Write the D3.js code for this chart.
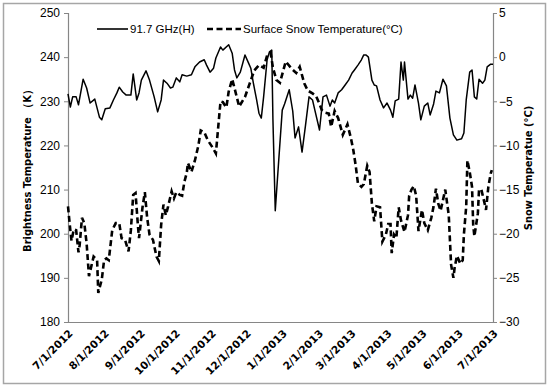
<!DOCTYPE html>
<html>
<head>
<meta charset="utf-8">
<script src="https://cdn.jsdelivr.net/npm/d3@7"></script>
<style>
  body { margin: 0; background: #fff; }
  svg { display: block; }
  text { font-family: "Liberation Sans", Arial, sans-serif; fill: #000; }
</style>
</head>
<body>
<svg width="550" height="388"></svg>
<script>
// dni od 2012-07-01 un vērtības, nolasītas no attēla
const btDays = [0,2,4,7,9,13,16,19,23,27,29,32,36,39,42,44,47,50,54,56,59,61,63,67,70,74,77,80,82,85,88,90,93,96,98,102,106,109,113,117,119,122,125,127,131,133,138,141,143,145,148,152,155,157,159,162,164,166,168,171,173,175,176,178,181,184,186,190,193,195,198,201,204,207,210,212,216,219,222,225,227,229,232,235,238,241,244,246,249,252,254,256,258,261,263,265,268,271,274,277,279,281,284,286,288,289,292,294,296,298,301,303,306,309,311,314,316,319,322,325,328,331,334,338,340,342,345,347,349,351,353,356,358,360,363,365];
const btValues = [231.7,228.7,231.0,231.0,229.2,235.0,233.0,229.6,230.5,226.4,225.8,228.3,228.5,230.3,231.9,233.2,232.1,231.4,231.4,236.2,230.3,231.9,234.8,236.9,234.8,231.0,227.6,230.3,234.8,234.1,233.0,233.2,235.3,234.4,236.0,235.7,236.0,237.8,238.9,239.4,238.2,236.6,237.5,239.8,242.3,241.6,242.8,240.9,237.1,235.3,236.6,240.5,238.7,237.5,234.4,230.3,227.3,226.2,231.0,239.4,241.2,241.6,225.8,205.2,216.7,228.0,229.4,232.6,227.8,221.7,224.2,218.5,224.6,231.0,230.3,228.0,223.5,231.0,231.4,228.9,230.3,229.6,231.9,232.6,233.7,234.8,236.4,237.1,238.2,239.4,240.5,240.5,240.0,234.8,233.7,233.5,230.3,228.5,229.6,228.0,226.4,230.1,230.5,238.9,234.8,238.9,230.5,231.4,230.7,233.7,229.6,225.8,228.9,229.6,226.9,229.4,232.3,231.9,235.0,233.5,226.2,222.4,221.2,221.5,222.8,230.3,236.6,237.1,231.0,230.5,235.0,234.1,234.8,237.8,238.4,238.4];

const snowDays = [0,2,3,5,7,9,10,12,14,16,18,20,22,25,26,29,31,33,35,38,41,44,46,49,52,54,56,58,60,61,64,66,68,70,73,76,78,80,82,84,86,89,91,93,96,98,100,102,103,106,109,112,114,117,120,124,127,131,133,136,138,141,143,147,152,156,160,164,168,171,174,176,179,182,187,192,196,199,203,206,210,213,216,218,221,224,226,229,232,236,240,243,245,247,249,252,254,257,259,261,263,265,268,270,273,275,277,278,280,282,284,286,289,292,293,295,297,299,301,304,306,309,312,314,316,318,320,323,324,327,329,331,332,334,337,339,340,342,343,345,347,348,349,352,353,355,358,359,361,363,364];
const snowValues = [-16.9,-19.6,-20.8,-19.5,-19.6,-22.1,-21.3,-18.2,-18.8,-21.1,-24.8,-23.7,-22.6,-23.0,-26.7,-25.2,-23.0,-22.8,-23.0,-19.6,-18.8,-18.8,-20.5,-20.7,-22.0,-19.6,-15.6,-15.4,-19.0,-20.5,-17.0,-15.3,-18.2,-20.1,-20.7,-22.6,-23.1,-19.0,-16.7,-17.9,-16.9,-15.2,-16.0,-15.3,-15.6,-15.7,-14.1,-13.1,-12.0,-13.0,-11.7,-10.0,-8.3,-8.5,-9.4,-10.2,-10.9,-5.0,-5.1,-5.7,-3.9,-2.5,-3.5,-5.6,-4.5,-3.0,-1.5,-0.9,-1.2,0.2,0.5,-1.2,-2.6,-2.9,-0.5,-1.3,-1.8,-1.1,-3.0,-3.8,-4.1,-4.4,-5.3,-6.0,-6.3,-6.4,-7.9,-6.1,-6.9,-8.8,-7.6,-9.2,-10.5,-12.2,-14.3,-14.7,-14.4,-12.3,-13.0,-16.6,-18.6,-16.9,-17.0,-20.9,-20.1,-18.9,-18.9,-22.2,-20.1,-20.5,-17.0,-18.5,-19.8,-17.9,-15.7,-15.0,-14.6,-15.7,-19.7,-17.3,-18.8,-19.6,-18.2,-16.9,-14.9,-16.6,-17.4,-15.6,-15.0,-17.9,-23.5,-25.0,-23.9,-22.5,-23.4,-23.0,-20.1,-16.9,-11.7,-13.0,-14.7,-19.0,-20.3,-17.7,-15.0,-15.0,-16.7,-17.3,-14.7,-13.2,-12.8];

const btTicks = [180,190,200,210,220,230,240,250];
const snowTicks = [-30,-25,-20,-15,-10,-5,0,5];
const monthLabels = ["7/1/2012","8/1/2012","9/1/2012","10/1/2012","11/1/2012","12/1/2012","1/1/2013","2/1/2013","3/1/2013","4/1/2013","5/1/2013","6/1/2013","7/1/2013"];

const startDate = new Date(2012, 6, 1);
const dayToDate = (d) => new Date(2012, 6, 1 + d);
const parseLabel = (s) => { const p = s.split("/"); return new Date(+p[2], +p[0] - 1, +p[1]); };

const svg = d3.select("svg");
const plotLeft = 68, plotRight = 493, plotTop = 13, plotBottom = 322;

// ārējais rāmis
svg.append("rect")
  .attr("x", 3.5).attr("y", 3.5).attr("width", 542).attr("height", 380)
  .attr("fill", "none").attr("stroke", "#a6a6a6").attr("stroke-width", 1.5);

const x = d3.scaleTime().domain([startDate, new Date(2013, 6, 1)]).range([plotLeft, plotRight]);
const yL = d3.scaleLinear().domain([180, 250]).range([plotBottom, plotTop]);
const yR = d3.scaleLinear().domain([-30, 5]).range([plotBottom, plotTop]);

const axisColor = "#868686";

// kreisā ass
const gL = svg.append("g").attr("transform", `translate(${plotLeft},0)`)
  .call(d3.axisLeft(yL).tickValues(btTicks).tickSize(4).tickPadding(4));
// labā ass
const gR = svg.append("g").attr("transform", `translate(${plotRight},0)`)
  .call(d3.axisRight(yR).tickValues(snowTicks).tickSize(4).tickPadding(4));
// apakšējā ass
const gB = svg.append("g").attr("transform", `translate(0,${plotBottom})`)
  .call(d3.axisBottom(x).tickValues(monthLabels.map(parseLabel)).tickSize(0)
    .tickFormat((d, i) => monthLabels[i]));

[gL, gR, gB].forEach((g) => {
  g.select(".domain").attr("stroke", axisColor).attr("stroke-width", 1.2);
  g.selectAll(".tick line").attr("stroke", axisColor);
  g.selectAll("text").style("font-family", '"Liberation Sans", Arial, sans-serif')
    .style("font-size", "12px").attr("fill", "#000");
});
gR.selectAll("text").attr("x", 6);

gB.selectAll(".tick text")
  .style("font-family", '"DejaVu Sans", sans-serif')
  .style("font-weight", "bold")
  .style("font-size", "10.5px")
  .attr("text-anchor", "end")
  .attr("dy", null)
  .attr("y", 0)
  .attr("transform", "translate(5,12) rotate(-45)");

// līnijas
const btData = btDays.map((d, i) => ({ date: dayToDate(d), v: btValues[i] }));
const snowData = snowDays.map((d, i) => ({ date: dayToDate(d), v: snowValues[i] }));

svg.append("path")
  .datum(snowData)
  .attr("fill", "none").attr("stroke", "#000").attr("stroke-width", 2.6)
  .attr("stroke-dasharray", "6,3.5")
  .attr("d", d3.line().x((d) => x(d.date)).y((d) => yR(d.v)));

svg.append("path")
  .datum(btData)
  .attr("fill", "none").attr("stroke", "#000").attr("stroke-width", 1.5)
  .attr("stroke-linejoin", "round")
  .attr("d", d3.line().x((d) => x(d.date)).y((d) => yL(d.v)));

// leģenda
const legend = svg.append("g");
legend.append("line").attr("x1", 97).attr("x2", 128).attr("y1", 29).attr("y2", 29)
  .attr("stroke", "#000").attr("stroke-width", 1.6);
legend.append("text").attr("x", 130).attr("y", 33).style("font-size", "11.5px").text("91.7 GHz(H)");
legend.append("line").attr("x1", 207).attr("x2", 241).attr("y1", 29).attr("y2", 29)
  .attr("stroke", "#000").attr("stroke-width", 2.6).attr("stroke-dasharray", "6,3.5");
legend.append("text").attr("x", 243).attr("y", 33).style("font-size", "11.5px").text("Surface Snow Temperature(°C)");

// ass nosaukumi
svg.append("text")
  .attr("transform", "translate(31,168) rotate(-90)")
  .attr("text-anchor", "middle")
  .style("font-size", "11px").style("font-weight", "bold")
  .style("font-family", '"Liberation Sans Narrow", "DejaVu Sans Condensed", sans-serif')
  .text("Brightness Temperature （K）");

svg.append("text")
  .attr("transform", "translate(532,168) rotate(-90)")
  .attr("text-anchor", "middle")
  .style("font-size", "11px").style("font-weight", "bold")
  .style("font-family", '"Liberation Sans Narrow", "DejaVu Sans Condensed", sans-serif')
  .text("Snow Temperatue (°C)");
</script>
</body>
</html>
